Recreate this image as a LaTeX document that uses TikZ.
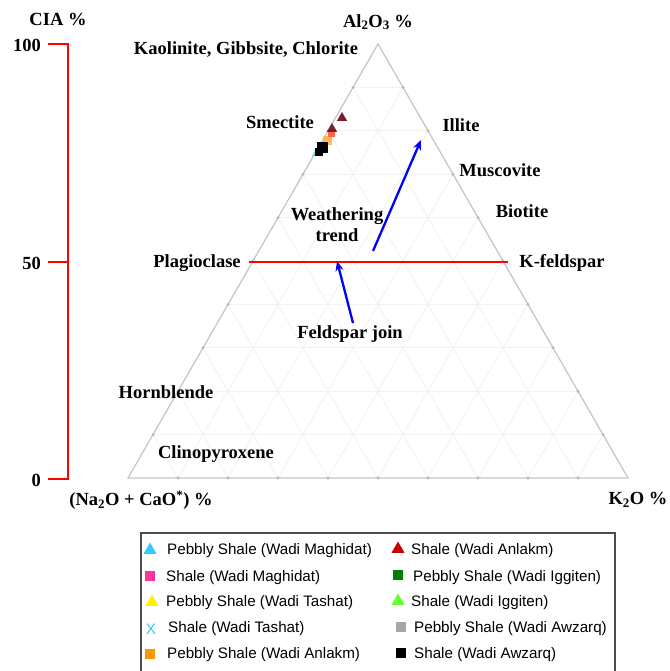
\documentclass[tikz,border=0pt]{standalone}
\usepackage{fontspec}
\setmainfont{Liberation Serif}
\newfontfamily\legfont{Liberation Sans}
\usetikzlibrary{arrows.meta,calc,shapes.geometric}
\definecolor{cbrown}{RGB}{120,30,45}
\definecolor{ccyan}{RGB}{51,204,255}
\definecolor{cpink}{RGB}{255,51,153}
\definecolor{corange}{RGB}{255,153,0}
\definecolor{cred}{RGB}{204,0,0}
\definecolor{cgreen}{RGB}{0,128,0}
\definecolor{clgreen}{RGB}{102,255,51}
\begin{document}
\begin{tikzpicture}[x=1pt,y=-1pt,
  lbl/.style={font=\fontsize{18.5}{20}\selectfont\bfseries, inner sep=0pt},
  leg/.style={font=\legfont\fontsize{15.2}{17}\selectfont, anchor=west, inner sep=0pt},
  gridln/.style={draw=black!5, line width=0.9pt},
  edge/.style={draw=black!22, line width=1.3pt},
  tickdot/.style={circle, fill=black!28, inner sep=0pt, minimum size=3.2pt},
  tri/.style={regular polygon, regular polygon sides=3, inner sep=0pt, minimum size=15pt, fill=#1, draw=none},
  sq/.style={rectangle, inner sep=0pt, minimum size=10pt, fill=#1, draw=none},
  redaxis/.style={draw=red, line width=2.6pt},
  trendarrow/.style={draw=blue, line width=2.3pt, -{Stealth[length=10pt,width=8pt]}}
]
\useasboundingbox (0,0) rectangle (669,671);
\clip (0,0) rectangle (669,671);
\fill[white] (0,0) rectangle (669,671);

% triangle corners
\coordinate (A) at (128,478);
\coordinate (B) at (628,478);
\coordinate (C) at (378,44);

% grid
\foreach \i in {1,...,9}{
  \draw[gridln] ($(A)!\i/10!(C)$) -- ($(B)!\i/10!(C)$);
  \draw[gridln] ($(A)!\i/10!(B)$) -- ($(C)!\i/10!(B)$);
  \draw[gridln] ($(B)!\i/10!(A)$) -- ($(C)!\i/10!(A)$);
}
\draw[edge] (A) -- (B) -- (C) -- cycle;
\foreach \i in {1,...,9}{
  \node[tickdot] at ($(A)!\i/10!(B)$) {};
  \node[tickdot] at ($(B)!\i/10!(C)$) {};
  \node[tickdot] at ($(C)!\i/10!(A)$) {};
}

% CIA axis
\coordinate (ax100) at (68,44);
\coordinate (ax50) at (68,262);
\coordinate (ax0) at (68,479);
\coordinate (t100) at (48,44);
\coordinate (t50) at (48,262);
\coordinate (t0) at (48,479);
\draw[redaxis] (t100) -- (ax100) -- (ax0) -- (t0);
\draw[redaxis] (t50) -- (ax50);
\node[lbl] (cia) at (58,19) {CIA \%};
\node[lbl, anchor=east] (n100) at (41,45) {100};
\node[lbl, anchor=east] (n50) at (41,263) {50};
\node[lbl, anchor=east] (n0) at (41,480) {0};

% feldspar join
\coordinate (fjL) at (249,262);
\coordinate (fjR) at (508,262);
\draw[draw=red, line width=2.3pt] (fjL) -- (fjR);

% labels
\node[lbl] (al) at (378,22) {Al\textsubscript{2}O\textsubscript{3} \%};
\node[lbl] (kao) at (246,50) {Kaolinite, Gibbsite, Chlorite};
\node[lbl] (sme) at (280,122) {Smectite};
\node[lbl] (ill) at (461,125) {Illite};
\node[lbl] (mus) at (500,170) {Muscovite};
\node[lbl] (bio) at (522,211) {Biotite};
\node[lbl, align=center] (wt) at (337,225) {Weathering\\[1pt]trend};
\node[lbl] (pla) at (197,263) {Plagioclase};
\node[lbl] (kfs) at (562,263) {K-feldspar};
\node[lbl] (fj) at (350,334) {Feldspar join};
\node[lbl] (hor) at (166,392) {Hornblende};
\node[lbl] (cli) at (216,454) {Clinopyroxene};
\node[lbl] (nac) at (141,500) {(Na\textsubscript{2}O + CaO\textsuperscript{*}) \%};
\node[lbl] (k2o) at (638,500) {K\textsubscript{2}O \%};

% arrows
\coordinate (wtS) at (373,251);
\coordinate (wtE) at (421,140);
\draw[trendarrow] (wtS) -- (wtE);
\coordinate (fjS) at (353,323);
\coordinate (fjE) at (337,261);
\draw[trendarrow] (fjS) -- (fjE);

% data points
\node[tri=ccyan!70, minimum size=12pt] (d1) at (317,153) {};
\node[sq=corange!70, minimum size=9pt] (d2) at (327,141) {};
\node[sq=cpink!50!corange, minimum size=7pt] (d3) at (331,134) {};
\node[tri=cbrown, minimum size=12pt] (d4) at (342,118) {};
\node[tri=cbrown, minimum size=12pt] (d5) at (332,129) {};
\node[sq=black, minimum size=11pt] (d6) at (322,148) {};
\node[sq=black, minimum size=8pt] (d7) at (319,152) {};

% legend
\draw[draw=black!70, line width=1.2pt] (141,690) -- (141,533) -- (615,533) -- (615,690);
\node[tri=ccyan] (m1) at (150,550) {};
\node[leg] (l1) at (167,551) {Pebbly Shale (Wadi Maghidat)};
\node[sq=cpink] (m2) at (150,576) {};
\node[leg] (l2) at (166,578) {Shale (Wadi Maghidat)};
\node[tri=yellow] (m3) at (152,602) {};
\node[leg] (l3) at (166,603) {Pebbly Shale (Wadi Tashat)};
\node[text=ccyan, font=\legfont\fontsize{15.2}{17}\selectfont, inner sep=0pt] (m4) at (151,629) {X};
\node[leg] (l4) at (168,629) {Shale (Wadi Tashat)};
\node[sq=corange] (m5) at (150,654) {};
\node[leg] (l5) at (167,655) {Pebbly Shale (Wadi Anlakm)};
\node[tri=cred] (m6) at (398,549) {};
\node[leg] (l6) at (411,551) {Shale (Wadi Anlakm)};
\node[sq=cgreen] (m7) at (398,575) {};
\node[leg] (l7) at (413,578) {Pebbly Shale (Wadi Iggiten)};
\node[tri=clgreen] (m8) at (398,601) {};
\node[leg] (l8) at (411,603) {Shale (Wadi Iggiten)};
\node[sq=black!35] (m9) at (401,627) {};
\node[leg] (l9) at (414,629) {Pebbly Shale (Wadi Awzarq)};
\node[sq=black] (m10) at (401,653) {};
\node[leg] (l10) at (414,655) {Shale (Wadi Awzarq)};
\end{tikzpicture}
\end{document}
